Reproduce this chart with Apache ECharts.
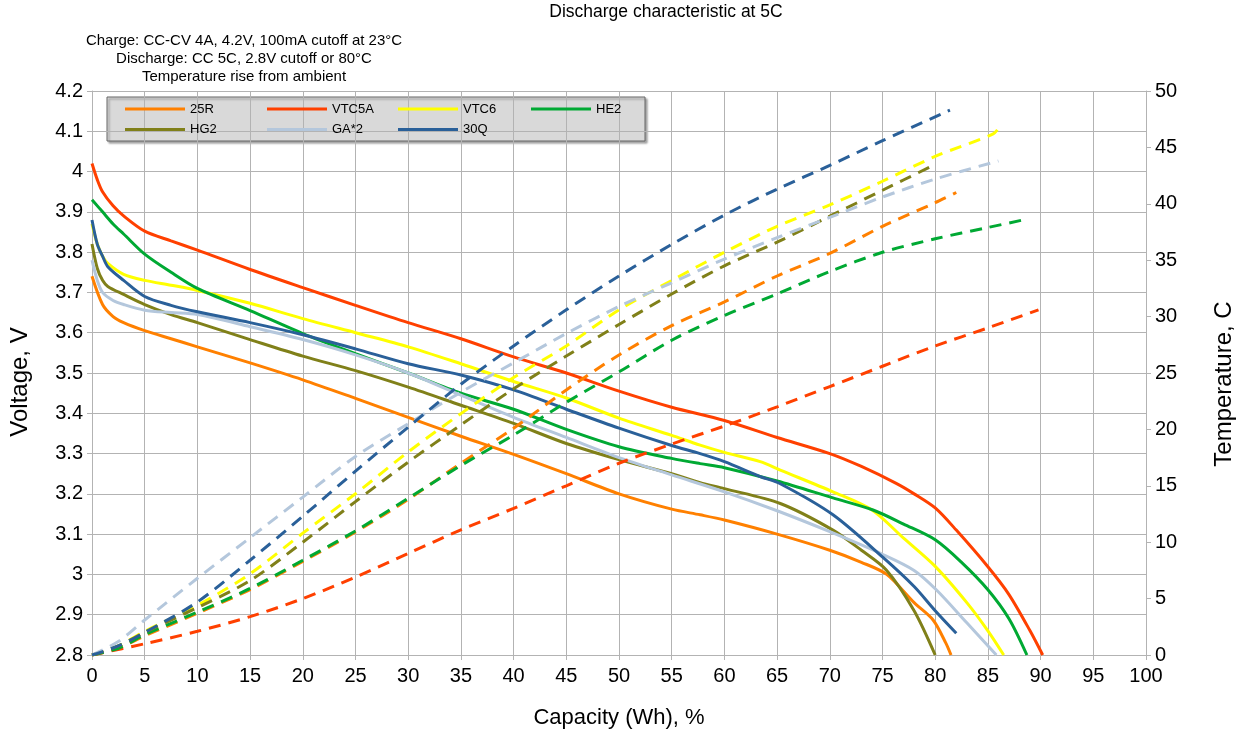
<!DOCTYPE html>
<html>
<head>
<meta charset="utf-8">
<script src="https://cdn.jsdelivr.net/npm/echarts@6/dist/echarts.min.js"></script>
<style>html,body{margin:0;padding:0;background:#fff}#c{width:1250px;height:736px}</style>
</head>
<body>
<div id="c"></div>
<script>
// ---- Data: [capacity %, voltage V] ----
const names = ['25R','VTC5A','VTC6','HE2','HG2','GA*2','30Q'];
const colors = ['#ff8000','#ff4000','#ffff00','#00a933','#808019','#b4c7dc','#2a6099'];

const v25R = [[0,3.74],[1,3.67],[2,3.64],[3,3.625],[5,3.605],[7.5,3.585],[10,3.565],[15,3.525],[20,3.483],[25,3.437],[30,3.39],[35,3.343],[40,3.298],[45,3.25],[50,3.2],[55,3.162],[57.7,3.148],[60,3.135],[65,3.1],[70,3.06],[73,3.03],[75.4,3.0],[78,2.93],[79.8,2.887],[81,2.83],[81.5,2.8]];
const vVTC5A = [[0,4.02],[0.5,3.98],[1,3.95],[2,3.915],[3,3.89],[5,3.852],[7.5,3.828],[10,3.805],[15,3.757],[20,3.712],[25,3.668],[30,3.625],[35,3.585],[40,3.54],[45,3.5],[50,3.455],[55,3.415],[60,3.382],[65,3.34],[70,3.3],[73,3.268],[76.3,3.226],[78,3.2],[80,3.165],[82,3.11],[85,3.019],[87,2.95],[89,2.86],[90.2,2.8]];
const vVTC6 = [[0,3.87],[0.5,3.82],[1,3.79],[1.5,3.772],[3,3.745],[5,3.73],[7.5,3.718],[10,3.705],[15,3.673],[20,3.635],[25,3.6],[30,3.565],[35,3.523],[40,3.479],[45,3.438],[50,3.388],[55,3.345],[57.7,3.321],[60,3.303],[63.4,3.28],[65.3,3.259],[70.3,3.205],[74,3.16],[77,3.09],[80,3.02],[83,2.93],[85,2.86],[86.5,2.8]];
const vHE2 = [[0,3.93],[1,3.9],[2,3.87],[3,3.845],[5,3.795],[7.5,3.75],[10,3.71],[15,3.655],[20,3.598],[25,3.548],[30,3.5],[35,3.45],[40,3.41],[45,3.36],[50,3.317],[55,3.288],[57.7,3.275],[60,3.265],[65,3.232],[70.3,3.19],[74.1,3.16],[77,3.125],[80,3.086],[82.5,3.03],[85,2.962],[87,2.89],[88.7,2.8]];
const vHG2 = [[0,3.82],[0.5,3.76],[1,3.73],[1.5,3.715],[3,3.695],[5,3.67],[7.5,3.645],[10,3.625],[15,3.583],[20,3.542],[25,3.506],[30,3.465],[35,3.42],[40,3.375],[45,3.325],[50,3.285],[55,3.25],[57.7,3.228],[60,3.213],[65.3,3.176],[70.3,3.11],[73,3.06],[75.4,3.01],[78,2.91],[80,2.8]];
const vGA2 = [[0,3.78],[0.5,3.73],[1,3.7],[2,3.68],[3,3.67],[5,3.656],[7.5,3.65],[10,3.645],[15,3.615],[20,3.583],[25,3.545],[30,3.5],[35,3.445],[40,3.39],[45,3.34],[50,3.29],[55,3.247],[60,3.205],[65,3.158],[70,3.106],[75,3.05],[78,3.01],[80.1,2.962],[83,2.88],[85.8,2.8]];
const v30Q = [[0,3.88],[0.5,3.82],[1,3.79],[1.5,3.764],[3,3.73],[5,3.69],[7.5,3.668],[10,3.652],[15,3.625],[20,3.595],[25,3.56],[30,3.523],[35,3.495],[40,3.458],[45,3.41],[50,3.363],[55,3.32],[57.7,3.3],[60,3.28],[63.4,3.243],[65.3,3.225],[70.3,3.148],[75.1,3.041],[78,2.97],[80,2.91],[82,2.854]];

// ---- Data: [capacity %, temperature rise C] ----
const t25R = [[0,0],[2.5,0.6],[5,1.7],[10,3.7],[15,5.8],[20,8.3],[25,10.9],[30,13.8],[35,17.0],[40,20.1],[45,23.5],[50,26.6],[55,29.2],[60,31.3],[65,33.6],[70,35.6],[75,38.0],[80,40.1],[82,41.0]];
const tVTC5A = [[0,0],[5,1.0],[10,2.1],[15,3.4],[20,5.0],[25,6.9],[30,9.0],[35,11.1],[40,13.0],[45,15.0],[50,17.0],[55,18.7],[60,20.3],[65,22.0],[70,23.8],[75,25.6],[80,27.4],[85,29.0],[89.8,30.6]];
const tVTC6 = [[0,0],[2.5,0.8],[5,2.1],[10,4.4],[15,7.2],[20,10.8],[25,14.3],[30,18.0],[35,21.4],[40,24.6],[45,27.4],[50,30.6],[55,33.2],[60,35.7],[65,38.0],[70,39.9],[75,42.0],[80,44.2],[85.5,46.2],[86.1,46.8]];
const tHE2 = [[0,0],[2.5,0.6],[5,1.8],[10,3.8],[15,5.9],[20,8.4],[25,11.0],[30,13.9],[35,16.8],[40,19.5],[45,22.4],[50,25.1],[55,27.9],[60,30.1],[65,32.0],[70,34.0],[75,35.7],[80,36.9],[85,37.9],[88.5,38.6]];
const tHG2 = [[0,0],[2.5,0.8],[5,2.0],[10,4.2],[15,6.6],[20,10.0],[25,13.6],[30,17.1],[35,20.4],[40,23.6],[45,26.5],[50,29.3],[55,32.0],[60,34.5],[65,36.6],[70,38.9],[75,41.2],[79.8,43.4]];
const tGA2 = [[0,0],[2.5,1.2],[5,3.1],[10,6.8],[15,10.4],[20,14.0],[25,17.6],[30,20.5],[35,23.3],[40,25.9],[45,28.5],[50,30.9],[55,33.0],[60,35.1],[65,37.0],[70,38.8],[75,40.6],[80,42.2],[86,43.8]];
const t30Q = [[0,0],[2.5,0.8],[5,2.0],[10,4.7],[15,8.4],[20,12.3],[25,16.3],[30,20.2],[35,24.0],[40,27.4],[45,30.6],[50,33.6],[55,36.4],[60,39.0],[65,41.3],[70,43.4],[75,45.6],[81.4,48.3]];

const voltData = [v25R, vVTC5A, vVTC6, vHE2, vHG2, vGA2, v30Q];
const tempData = [t25R, tVTC5A, tVTC6, tHE2, tHG2, tGA2, t30Q];

const FONT = 'Liberation Sans, Arial, sans-serif';
const series = [];
names.forEach((n, i) => {
  series.push({name:n, type:'line', yAxisIndex:0, data:voltData[i], smooth:0.3, symbol:'none',
    lineStyle:{color:colors[i], width:3}, itemStyle:{color:colors[i]}, z:2});
});
names.forEach((n, i) => {
  series.push({name:n, type:'line', yAxisIndex:1, data:tempData[i], smooth:0.3, symbol:'none',
    lineStyle:{color:colors[i], width:3, type:[12,8]}, itemStyle:{color:colors[i]}, z:3});
});

const legendPos = [[125,102.5],[267,102.5],[398,102.5],[531,102.5],[125,123],[267,123],[398,123]];
const legends = names.map((n, i) => ({
  data:[{name:n, icon:'rect', itemStyle:{color:colors[i], borderWidth:0}}],
  left:legendPos[i][0], top:legendPos[i][1], padding:0, itemWidth:60, itemHeight:3,
  textStyle:{fontFamily:FONT, fontSize:13, color:'#000'}, selectedMode:false
}));

const chart = echarts.init(document.getElementById('c'));
chart.setOption({
  animation:false,
  backgroundColor:'#fff',
  grid:{left:92, right:104, top:91, bottom:81},
  legend:legends,
  graphic:[
    {type:'rect', shape:{x:107, y:97, width:538, height:44}, style:{fill:'#d9d9d9', stroke:'#666', lineWidth:1, shadowColor:'rgba(0,0,0,0.35)', shadowOffsetX:2, shadowOffsetY:2, shadowBlur:2}, z:0},
    {type:'text', x:666, y:12, style:{text:'Discharge characteristic at 5C', textAlign:'center', textVerticalAlign:'middle', font:'17.5px ' + FONT, fill:'#000'}},
    {type:'text', x:244, y:41, style:{text:'Charge: CC-CV 4A, 4.2V, 100mA cutoff at 23°C', textAlign:'center', textVerticalAlign:'middle', font:'15px ' + FONT, fill:'#000'}},
    {type:'text', x:244, y:59, style:{text:'Discharge: CC 5C, 2.8V cutoff or 80°C', textAlign:'center', textVerticalAlign:'middle', font:'15px ' + FONT, fill:'#000'}},
    {type:'text', x:244, y:77, style:{text:'Temperature rise from ambient', textAlign:'center', textVerticalAlign:'middle', font:'15px ' + FONT, fill:'#000'}},
    {type:'text', x:20, y:382, rotation:Math.PI/2, style:{text:'Voltage, V', textAlign:'center', textVerticalAlign:'middle', font:'24px ' + FONT, fill:'#000'}},
    {type:'text', x:1224, y:384, rotation:Math.PI/2, style:{text:'Temperature, C', textAlign:'center', textVerticalAlign:'middle', font:'24px ' + FONT, fill:'#000'}}
  ],
  xAxis:{type:'value', min:0, max:100, interval:5,
    name:'Capacity (Wh), %', nameLocation:'middle', nameGap:52,
    nameTextStyle:{fontFamily:FONT, fontSize:22, color:'#000'},
    axisLine:{lineStyle:{color:'#b3b3b3'}}, axisTick:{show:true, length:5, lineStyle:{color:'#b3b3b3'}},
    axisLabel:{fontFamily:FONT, fontSize:20, color:'#000', margin:11},
    splitLine:{show:true, lineStyle:{color:'#b3b3b3'}}},
  yAxis:[
    {type:'value', min:2.8, max:4.2, interval:0.1, position:'left',
      axisLine:{show:true, lineStyle:{color:'#b3b3b3'}}, axisTick:{show:true, length:5, lineStyle:{color:'#b3b3b3'}},
      axisLabel:{fontFamily:FONT, fontSize:20, color:'#000', margin:9},
      splitLine:{show:true, lineStyle:{color:'#b3b3b3'}}},
    {type:'value', min:0, max:50, interval:5, position:'right',
      axisLine:{show:true, lineStyle:{color:'#b3b3b3'}}, axisTick:{show:true, length:5, lineStyle:{color:'#b3b3b3'}},
      axisLabel:{fontFamily:FONT, fontSize:20, color:'#000', margin:9},
      splitLine:{show:false}}
  ],
  series:series
});
</script>
</body>
</html>
